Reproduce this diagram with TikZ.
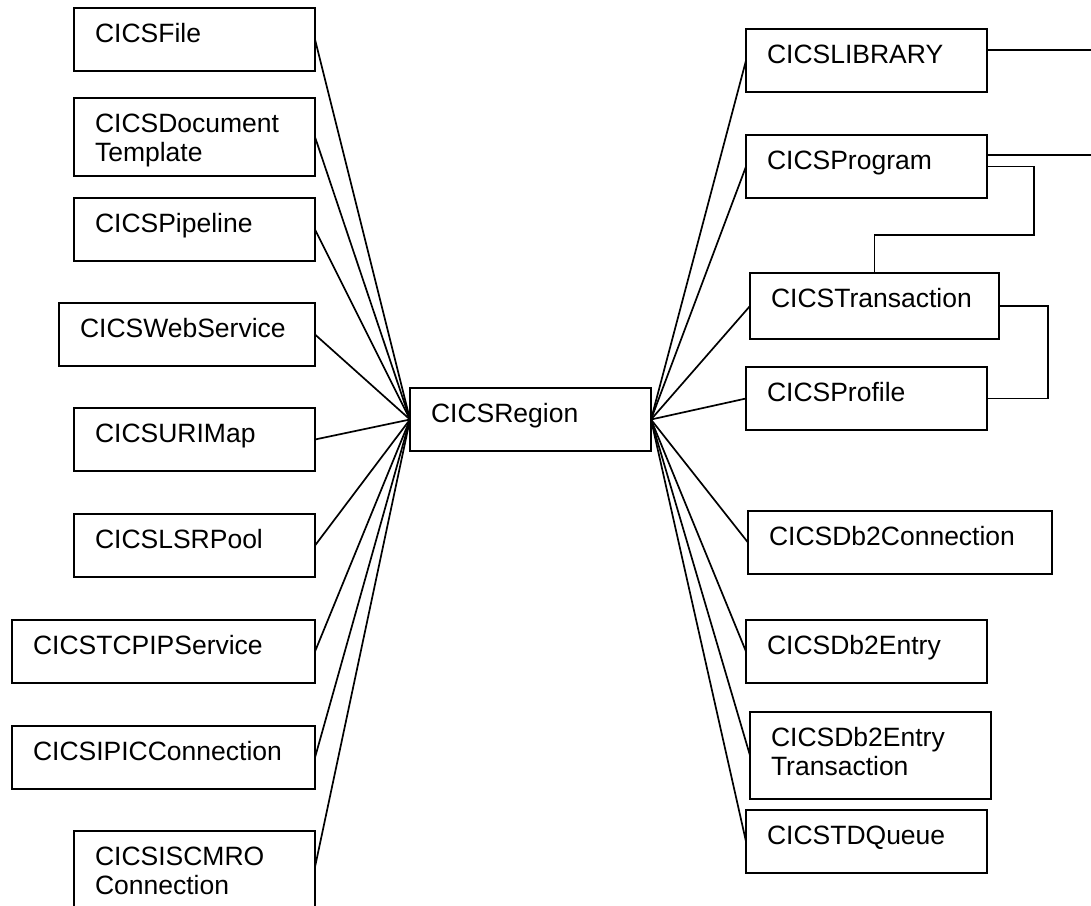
\documentclass[tikz,border=0pt]{standalone}
\usepackage{fontspec}
\setmainfont{Liberation Sans}
\usetikzlibrary{positioning,calc}

\tikzset{
  cbox/.style={draw, line width=2pt, anchor=north west, align=left, outer sep=0pt,
    inner xsep=21pt, inner ysep=0pt, text width=199pt,
    text height=34pt, text depth=29pt, font=\fontsize{26.5}{29}\selectfont},
  link/.style={line width=1.7pt},
}

\begin{document}
\begin{tikzpicture}[x=1pt, y=-1pt]
    \useasboundingbox (0,0) rectangle (1091,905);

    % Centre
    \node[cbox] (region) at (410,388) {CICSRegion};

    % Left column
    \node[cbox] (file) at (74,8) {CICSFile};
    \node[cbox, text depth=44pt] (doctpl) at (74,98) {CICSDocument\\Template};
    \node[cbox] (pipeline) at (74,198) {CICSPipeline};
    \node[cbox, text width=214pt] (websvc) at (59,303) {CICSWebService};
    \node[cbox] (urimap) at (74,408) {CICSURIMap};
    \node[cbox] (lsrpool) at (74,514) {CICSLSRPool};
    \node[cbox, text width=261pt] (tcpip) at (12,620) {CICSTCPIPService};
    \node[cbox, text width=261pt] (ipic) at (12,726) {CICSIPICConnection};
    \node[cbox, text depth=56pt] (iscmro) at (74,831) {CICSISCMRO\\Connection};

    % Right column
    \node[cbox] (library) at (746,29) {CICSLIBRARY};
    \node[cbox] (program) at (746,135) {CICSProgram};
    \node[cbox, text width=207pt, text depth=32pt] (transaction) at (750,273) {CICSTransaction};
    \node[cbox] (profile) at (746,367) {CICSProfile};
    \node[cbox, text width=262pt] (db2conn) at (748,511) {CICSDb2Connection};
    \node[cbox] (db2entry) at (746,620) {CICSDb2Entry};
    \node[cbox, text depth=53pt] (db2etran) at (750,712) {CICSDb2Entry\\Transaction};
    \node[cbox] (tdqueue) at (746,810) {CICSTDQueue};

    % Spokes to the region
    \foreach \n in {file,doctpl,pipeline,websvc,urimap,lsrpool,tcpip,ipic}
        \draw[link] (\n.east) -- (region.west);
    \draw[link] ([yshift=9pt]iscmro.east) -- (region.west);
    \foreach \n in {library,program,transaction,profile,db2conn,db2entry,db2etran,tdqueue}
        \draw[link] (region.east) -- (\n.west);

    % Links off the page
    \coordinate (libout) at (1091,50);
    \coordinate (progout) at (1091,155);
    \draw[link] ([yshift=10.5pt]library.east) -- (libout);
    \draw[link] ([yshift=11.5pt]program.east) -- (progout);

    % Program - Transaction - Profile
    \draw[link] (program.east) -- ++(47,0) |- ([yshift=38pt]transaction.north) -- (transaction.north);
    \draw[link] (transaction.east) -- ++(49,0) |- (profile.east);
\end{tikzpicture}
\end{document}
